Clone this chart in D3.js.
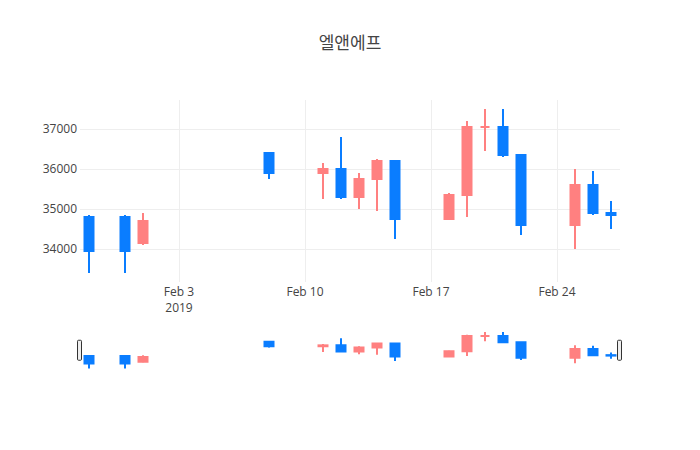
<!DOCTYPE html>
<meta charset="utf-8">
<style>
  body { margin: 0; background: #fff; }
  text { font-family: "Open Sans", "Noto Sans CJK KR", sans-serif; fill: #444; }
  .grid line { stroke: #eee; stroke-width: 1px; shape-rendering: crispEdges; }
</style>
<body>
<script src="https://cdnjs.cloudflare.com/ajax/libs/d3/7.8.5/d3.min.js"></script>
<script>
  var title = "엘앤에프";

  var dates = ["2019-01-29", "2019-01-31", "2019-02-01", "2019-02-08", "2019-02-11", "2019-02-12",
    "2019-02-13", "2019-02-14", "2019-02-15", "2019-02-18", "2019-02-19", "2019-02-20",
    "2019-02-21", "2019-02-22", "2019-02-25", "2019-02-26", "2019-02-27"];
  var open  = [34800, 34800, 34150, 36400, 35900, 36000, 35300, 35750, 36200, 34750, 35350, 37050, 37050, 36350, 34600, 35600, 34900];
  var high  = [34850, 34850, 34900, 36400, 36150, 36800, 35900, 36250, 36200, 35400, 37200, 37500, 37500, 36350, 36000, 35950, 35200];
  var low   = [33400, 33400, 34100, 35750, 35250, 35250, 35000, 34950, 34250, 34750, 34800, 36450, 36300, 34350, 34000, 34850, 34500];
  var close = [33950, 33950, 34700, 35900, 36000, 35300, 35750, 36200, 34750, 35350, 37050, 37050, 36350, 34600, 35600, 34900, 34850];

  var yTicks = [34000, 35000, 36000, 37000];
  var xTicks = ["2019-02-03", "2019-02-10", "2019-02-17", "2019-02-24"];

  var upColor = "#ff8080", downColor = "#0a7dff";

  var W = 700, H = 450,
      plotL = 80, plotR = 620,
      plotT = 100, plotB = 282,
      sliderT = 330, sliderB = 370.5;

  var parse = d3.utcParse("%Y-%m-%d");
  var data = dates.map(function(d, i) {
    var o = open[i], c = close[i];
    var up = c > o || (c === o && (i === 0 || c >= close[i - 1]));
    return {date: parse(d), o: o, h: high[i], l: low[i], c: c, up: up};
  });

  var halfDay = 12 * 3600 * 1000;
  var x = d3.scaleUtc()
    .domain([new Date(+data[0].date - halfDay), new Date(+data[data.length - 1].date + halfDay)])
    .range([plotL, plotR]);

  var yMin = 33175, yMax = 37725;
  var y = d3.scaleLinear().domain([yMin, yMax]).range([plotB, plotT]);
  var ys = d3.scaleLinear().domain([yMin, yMax]).range([sliderB, sliderT]);

  var svg = d3.select("body").append("svg")
    .attr("width", W).attr("height", H);

  svg.append("text")
    .attr("x", 350).attr("y", 49)
    .attr("text-anchor", "middle")
    .style("font-size", "17px")
    .text(title);

  // grid
  var grid = svg.append("g").attr("class", "grid");
  grid.selectAll(".gy").data(yTicks).enter().append("line")
    .attr("x1", plotL).attr("x2", plotR)
    .attr("y1", function(d) { return Math.round(y(d)) + 0.5; })
    .attr("y2", function(d) { return Math.round(y(d)) + 0.5; });
  grid.selectAll(".gx").data(xTicks.map(parse)).enter().append("line")
    .attr("y1", plotT).attr("y2", plotB)
    .attr("x1", function(d) { return Math.round(x(d)) + 0.5; })
    .attr("x2", function(d) { return Math.round(x(d)) + 0.5; });

  // y axis labels
  var yAxis = d3.axisLeft(y).tickValues(yTicks).tickSize(0).tickPadding(3).tickFormat(d3.format("d"));
  var gy = svg.append("g").attr("transform", "translate(" + plotL + ",0)").call(yAxis);
  gy.select(".domain").remove();
  gy.selectAll("text").style("font-size", "12px").attr("fill", "#444")
    .style("font-family", "'Open Sans', sans-serif");

  // x axis labels
  var fmt = d3.utcFormat("%b %-d");
  var gx = svg.append("g").attr("transform", "translate(0," + plotB + ")");
  xTicks.map(parse).forEach(function(d, i) {
    gx.append("text")
      .attr("x", x(d)).attr("y", 14)
      .attr("text-anchor", "middle")
      .style("font-size", "12px")
      .text(fmt(d));
    if (i === 0) {
      gx.append("text")
        .attr("x", x(d)).attr("y", 30)
        .attr("text-anchor", "middle")
        .style("font-size", "12px")
        .text(d3.utcFormat("%Y")(d));
    }
  });

  function drawCandles(g, yy) {
    var bw = 9;
    var c = g.selectAll("g.candle").data(data).enter().append("g").attr("class", "candle");
    c.append("line")
      .attr("x1", function(d) { return x(d.date); })
      .attr("x2", function(d) { return x(d.date); })
      .attr("y1", function(d) { return yy(d.h); })
      .attr("y2", function(d) { return yy(d.l); })
      .attr("stroke", function(d) { return d.up ? upColor : downColor; })
      .attr("stroke-width", 2);
    c.append("path")
      .attr("d", function(d) {
        var x0 = x(d.date) - bw / 2, x1 = x(d.date) + bw / 2,
            y0 = yy(d.o), y1 = yy(d.c);
        return "M" + x0 + "," + y0 + "H" + x1 + "V" + y1 + "H" + x0 + "Z";
      })
      .attr("fill", function(d) { return d.up ? upColor : downColor; })
      .attr("stroke", function(d) { return d.up ? upColor : downColor; })
      .attr("stroke-width", 2);
  }

  drawCandles(svg.append("g"), y);

  // range slider
  var slider = svg.append("g");
  slider.append("rect")
    .attr("x", plotL).attr("y", sliderT)
    .attr("width", plotR - plotL).attr("height", sliderB - sliderT)
    .attr("fill", "#fff");
  drawCandles(slider, ys);
  var mid = (sliderT + sliderB) / 2;
  [plotL - 2, plotR - 2].forEach(function(px) {
    slider.append("rect")
      .attr("x", px - 0.5).attr("y", mid - 10)
      .attr("width", 4).attr("height", 20)
      .attr("rx", 1).attr("ry", 1)
      .attr("fill", "#eee").attr("stroke", "#333").attr("stroke-width", 1);
  });
</script>
</body>
